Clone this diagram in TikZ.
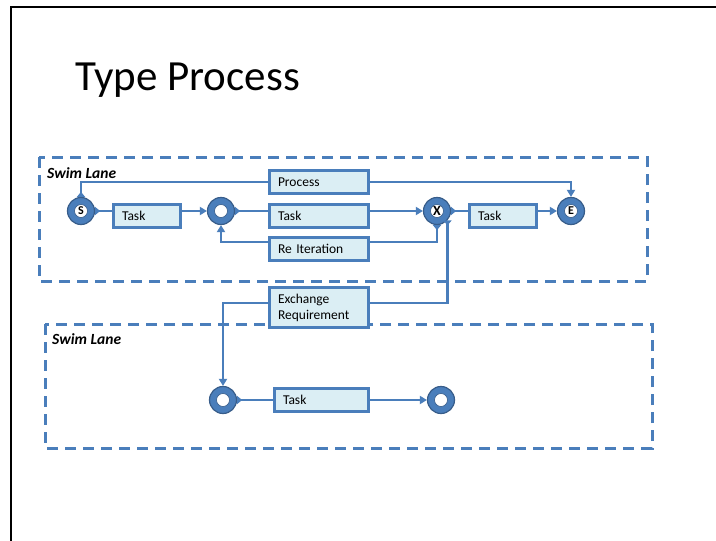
\documentclass[tikz,border=0pt]{standalone}
\usepackage{fontspec}
\setmainfont{Carlito}
\usetikzlibrary{arrows.meta}
\definecolor{lineblue}{RGB}{74,126,187}
\definecolor{darkblue}{RGB}{56,93,138}
\definecolor{boxfill}{RGB}{219,238,244}
\begin{document}
\begin{tikzpicture}[x=1pt,y=-1pt,
  lane/.style={draw=lineblue, line width=3pt, dash pattern=on 11pt off 7pt},
  taskbox/.style={draw=lineblue, fill=boxfill, line width=3pt, rectangle,
     inner xsep=8.5pt, inner ysep=0pt, align=left, text width=#1,
     font=\fontsize{13.5}{16}\selectfont},
  taskbox/.default=80pt,
  evt/.style={circle, fill=lineblue, draw=darkblue, line width=1.2pt, minimum size=27pt, inner sep=0pt},
  flow/.style={draw=lineblue, line width=2.5pt},
  arr/.style={-{Triangle[length=7pt,width=8pt]}},
  smark/.style={{Triangle[reversed,length=5pt,width=8pt]}-},
  lanelabel/.style={anchor=west, font=\fontsize{15.5}{18}\bfseries\itshape\selectfont, inner sep=0pt}
]
\useasboundingbox (0,0) rectangle (716,541);
\fill[white] (0,0) rectangle (716,541);
\draw[line width=2pt] (11,545) -- (11,7) -- (720,7);

\node[anchor=base west, inner sep=0pt, font=\fontsize{43}{50}\selectfont] (title) at (75,90) {Type Process};

% swim lanes
\draw[lane] (39,157) rectangle (647,281);
\draw[lane] (45,324) rectangle (652,448);
\node[lanelabel] (sl1) at (47,173) {Swim Lane};
\node[lanelabel] (sl2) at (52,339) {Swim Lane};

% events
\node[evt] (S) at (81,211) {};
\node[evt] (M1) at (221,211) {};
\node[evt] (X) at (437,211) {};
\node[evt] (E) at (571,211) {};
\node[evt] (C2) at (223,400) {};
\node[evt] (C3) at (441,400) {};
\foreach \n in {S,M1,X,E,C2,C3}
  \fill[white, draw=darkblue, line width=0.6pt] (\n.center) circle (6.5pt);
\node[font=\fontsize{12}{12}\bfseries\selectfont, inner sep=0pt] (Sl) at (S.center) {S};
\node[font=\fontsize{14}{14}\bfseries\selectfont, inner sep=0pt] (Xl) at (X.center) {X};
\node[font=\fontsize{12}{12}\bfseries\selectfont, inner sep=0pt] (El) at (E.center) {E};

% boxes
\node[taskbox=50pt, minimum height=23pt, anchor=north west] (T1) at (112,203) {Task};
\node[taskbox=82pt, minimum height=23pt, anchor=north west] (Proc) at (268,169) {Process};
\node[taskbox=82pt, minimum height=23pt, anchor=north west] (T2) at (268,203) {Task};
\node[taskbox=82pt, minimum height=23pt, anchor=north west] (ReIt) at (268,236) {Re Iteration};
\node[taskbox=50pt, minimum height=23pt, anchor=north west] (T3) at (468,203) {Task};
\node[taskbox=82pt, minimum height=40pt, anchor=north west] (Exch) at (268,286) {Exchange\\Requirement};
\node[taskbox=77pt, minimum height=23pt, anchor=north west] (T4) at (273,387) {Task};

\coordinate (riy) at (0,242);
\coordinate (exy) at (0,303);

% connectors
\draw[flow,smark] (S.east) -- (S.east -| T1.west);
\draw[flow,arr] (T1.east |- M1) -- (M1.west);
\draw[flow,smark] (M1.east) -- (M1.east -| T2.west);
\draw[flow,arr] (T2.east |- X) -- (X.west);
\draw[flow,smark] (X.east) -- (X.east -| T3.west);
\draw[flow,arr] (T3.east |- E) -- (E.west);
\draw[flow,smark] (S.north) |- (Proc.west);
\draw[flow,arr] (Proc.east) -| (E.north);
\draw[flow,smark] (X.south) -- (X.south |- riy) -- (ReIt.east |- riy);
\draw[flow,arr] (ReIt.west |- riy) -| (M1.south);
\draw[flow,smark] (X.-42) -- (X.-42 |- exy) -- (Exch.east |- exy);
\draw[flow,arr] (Exch.west |- exy) -| (C2.north);
\draw[flow,smark] (C2.east) -- (C2.east -| T4.west);
\draw[flow,arr] (T4.east |- C3) -- (C3.west);
\end{tikzpicture}
\end{document}
